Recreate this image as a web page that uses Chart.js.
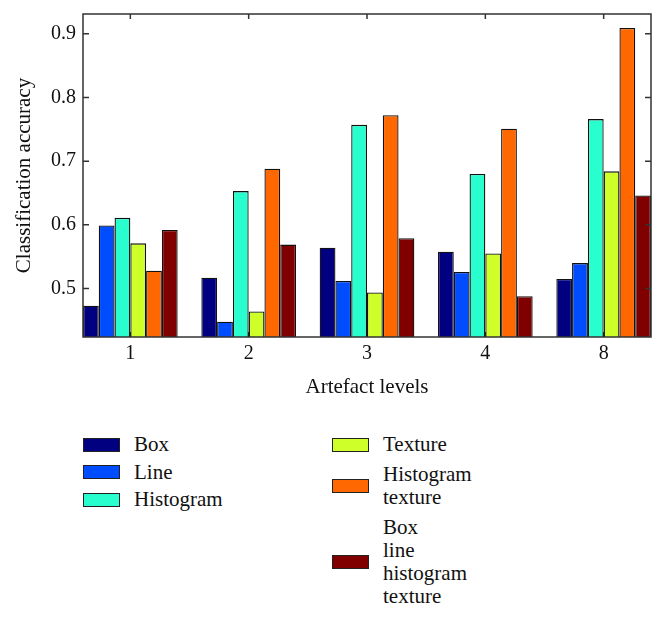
<!DOCTYPE html>
<html>
<head>
<meta charset="utf-8">
<script src="https://cdn.jsdelivr.net/npm/chart.js@4/dist/chart.umd.min.js"></script>
<style>
  body { margin: 0; background: #fff; font-family: "Liberation Serif", "Times New Roman", "DejaVu Serif", serif; color: #111; }
  #wrap { position: absolute; left: 0; top: 0; width: 665px; height: 410px; }
  .col { position: absolute; top: 433px; display: flex; flex-direction: column; }
  .item { display: flex; align-items: center; }
  .sw { width: 35px; height: 12px; border: 1.5px solid #222; margin-right: 14px; flex: none; }
  .lab { font-size: 21px; line-height: 23px; }
</style>
</head>
<body>
<div id="wrap"><canvas id="myChart"></canvas></div>
<div class="col" id="col1" style="left:83px; gap:4.5px;"></div>
<div class="col" id="col2" style="left:332px; gap:7px;"></div>
<script>
'use strict';
// data
let levels = ['1', '2', '3', '4', '8'];
let seriesNames = ['Box', 'Line', 'Histogram', 'Texture', 'Histogram texture', 'Box line histogram texture'];
let seriesColors = ['#000080', '#004cff', '#29ffce', '#ceff29', '#ff6800', '#800000'];
let boxVals = [0.473, 0.517, 0.564, 0.558, 0.515];
let lineVals = [0.599, 0.448, 0.512, 0.526, 0.540];
let histVals = [0.611, 0.653, 0.757, 0.680, 0.766];
let textureVals = [0.571, 0.464, 0.494, 0.555, 0.684];
let histTextureVals = [0.528, 0.688, 0.772, 0.751, 0.909];
let allVals = [0.592, 0.569, 0.579, 0.488, 0.646];
let yTicks = [0.5, 0.6, 0.7, 0.8, 0.9];

let seriesVals = [boxVals, lineVals, histVals, textureVals, histTextureVals, allVals];
const fontFamily = '"Liberation Serif", "Times New Roman", "DejaVu Serif", serif';

let datasets = [];
for (let i = 0; i < seriesNames.length; i++) {
  datasets.push({
    label: seriesNames[i],
    data: seriesVals[i].map((v, j) => ({ x: j + 1, y: v })),
    backgroundColor: seriesColors[i],
    borderColor: '#111',
    borderWidth: 1.3,
    categoryPercentage: 0.8,
    barPercentage: 1.0
  });
}

// frame with inward ticks
const framePlugin = {
  id: 'frame',
  beforeDatasetsDraw(chart) {
    const { ctx, chartArea: a, scales: { x } } = chart;
    ctx.save();
    ctx.strokeStyle = '#333';
    ctx.lineWidth = 1.5;
    ctx.beginPath();
    x.ticks.forEach(t => {
      const px = x.getPixelForValue(t.value);
      ctx.moveTo(px, a.bottom);
      ctx.lineTo(px, a.bottom - 5);
    });
    ctx.stroke();
    ctx.restore();
  },
  afterDatasetsDraw(chart) {
    const { ctx, chartArea: a, scales: { x, y } } = chart;
    ctx.save();
    ctx.strokeStyle = '#333';
    ctx.lineWidth = 1.5;
    ctx.strokeRect(a.left, a.top, a.right - a.left, a.bottom - a.top);
    ctx.beginPath();
    yTicks.forEach(v => {
      const py = y.getPixelForValue(v);
      ctx.moveTo(a.left, py);
      ctx.lineTo(a.left + 6, py);
      ctx.moveTo(a.right, py);
      ctx.lineTo(a.right - 6, py);
    });
    x.ticks.forEach(t => {
      const px = x.getPixelForValue(t.value);
      ctx.moveTo(px, a.top);
      ctx.lineTo(px, a.top + 5);
    });
    ctx.stroke();
    ctx.restore();
  }
};

const ctx = document.getElementById('myChart');
new Chart(ctx, {
  type: 'bar',
  data: { datasets: datasets },
  plugins: [framePlugin],
  options: {
    responsive: true,
    maintainAspectRatio: false,
    animation: false,
    layout: { padding: { top: 14, right: 14, left: 0, bottom: 0 } },
    plugins: { legend: { display: false }, tooltip: { enabled: false } },
    scales: {
      x: {
        type: 'linear',
        offset: false,
        min: 0.6,
        max: 5.4,
        grid: { display: false, drawTicks: false },
        border: { display: false },
        afterBuildTicks: (s) => { s.ticks = levels.map((l, i) => ({ value: i + 1 })); },
        afterFit: (s) => { s.height = 73; s.paddingLeft = 0; s.paddingRight = 0; },
        ticks: {
          padding: 5,
          color: '#111',
          font: { family: fontFamily, size: 20 },
          callback: (v) => levels[v - 1]
        },
        title: {
          display: true,
          text: 'Artefact levels',
          color: '#111',
          font: { family: fontFamily, size: 21 },
          padding: { top: 0, bottom: 10 }
        }
      },
      y: {
        min: 0.424,
        max: 0.931,
        grid: { display: false, drawTicks: false },
        border: { display: false },
        afterBuildTicks: (s) => { s.ticks = yTicks.map(v => ({ value: v })); },
        afterFit: (s) => { s.width = 83; s.paddingTop = 0; s.paddingBottom = 0; },
        ticks: {
          padding: 7,
          color: '#111',
          font: { family: fontFamily, size: 20 },
          callback: (v) => v.toFixed(1)
        },
        title: {
          display: true,
          text: 'Classification accuracy',
          color: '#111',
          font: { family: fontFamily, size: 21 },
          padding: { top: 12, bottom: 0 }
        }
      }
    }
  }
});

// legend
function addItem(col, i) {
  let item = document.createElement('div');
  item.className = 'item';
  let sw = document.createElement('div');
  sw.className = 'sw';
  sw.style.background = seriesColors[i];
  let lab = document.createElement('div');
  lab.className = 'lab';
  seriesNames[i].split(' ').forEach((w, k) => {
    if (k > 0) lab.appendChild(document.createElement('br'));
    lab.appendChild(document.createTextNode(w));
  });
  item.appendChild(sw);
  item.appendChild(lab);
  col.appendChild(item);
}
let col1 = document.getElementById('col1');
let col2 = document.getElementById('col2');
for (let i = 0; i < 3; i++) addItem(col1, i);
for (let i = 3; i < 6; i++) addItem(col2, i);
</script>
</body>
</html>
